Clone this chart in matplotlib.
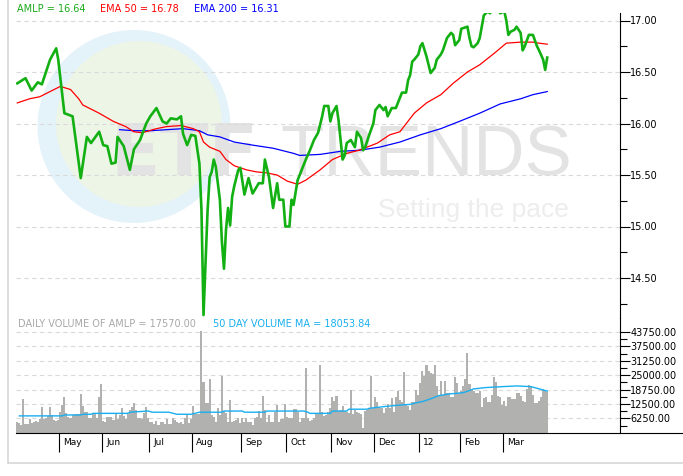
import numpy as np
import matplotlib.pyplot as plt
from matplotlib.patches import Ellipse
from matplotlib.lines import Line2D
from matplotlib.ticker import FixedLocator, FormatStrFormatter

# AMLP daily close (trading day index, price)
amlp_day = [0, 4, 7, 10, 12, 16, 19, 20, 23, 27, 31, 34, 36, 40, 42, 44, 46, 48, 49, 52,
            55, 57, 60, 63, 65, 68, 71, 73, 75, 78, 80, 81, 83, 85, 87, 89, 90, 91, 92, 93,
            94, 95, 96, 97, 99, 100, 101, 102, 103, 104, 105, 106, 108, 109, 111, 113, 115, 118, 120, 121,
            123, 125, 127, 128, 130, 131, 133, 134, 135, 137, 139, 141, 143, 145, 147, 149, 150, 152, 153, 154,
            156, 157, 158, 159, 160, 161, 163, 165, 166, 168, 169, 170, 172, 174, 175, 177, 179, 180, 181, 183,
            185, 186, 188, 190, 191, 192, 193, 194, 196, 197, 198, 200, 201, 202, 204, 205, 207, 208, 210, 212,
            213, 214, 216, 217, 220, 221, 222, 223, 225, 226, 227, 228, 230, 231, 232, 233, 235, 236, 238, 239,
            240, 241, 243, 244, 246, 247, 248, 250, 252, 254, 255, 257, 258, 259]
amlp = [16.39, 16.44, 16.32, 16.40, 16.38, 16.62, 16.73, 16.62, 16.10, 16.07, 15.47, 15.87, 15.81, 15.92, 15.79, 15.78, 15.61, 15.62, 15.87, 15.78,
        15.55, 15.75, 15.84, 16.00, 16.07, 16.15, 16.02, 16.00, 16.05, 16.04, 16.07, 15.90, 15.79, 15.89, 15.88, 15.61, 15.16, 14.14, 14.66, 15.16,
        15.48, 15.53, 15.65, 15.58, 15.26, 14.85, 14.59, 14.97, 15.18, 15.01, 15.29, 15.39, 15.55, 15.57, 15.31, 15.47, 15.32, 15.42, 15.42, 15.65,
        15.48, 15.18, 15.42, 15.26, 15.26, 15.00, 15.00, 15.26, 15.21, 15.45, 15.55, 15.65, 15.74, 15.84, 15.91, 16.07, 16.17, 16.17, 16.02, 16.10,
        16.17, 16.03, 15.84, 15.65, 15.69, 15.81, 15.84, 15.77, 15.92, 15.86, 15.74, 15.77, 15.89, 16.00, 16.13, 16.18, 16.13, 16.16, 16.07, 16.15,
        16.15, 16.20, 16.30, 16.30, 16.42, 16.47, 16.60, 16.62, 16.67, 16.75, 16.78, 16.65, 16.57, 16.49, 16.54, 16.62, 16.67, 16.71, 16.83, 16.88,
        16.86, 16.76, 16.81, 16.92, 16.94, 16.83, 16.75, 16.74, 16.78, 16.83, 16.94, 17.05, 17.09, 17.07, 17.10, 17.14, 17.12, 17.07, 17.09, 17.00,
        16.86, 16.89, 16.91, 16.94, 16.88, 16.71, 16.75, 16.86, 16.86, 16.75, 16.71, 16.62, 16.52, 16.64]

ema50_day = [0, 6, 11, 16, 21, 26, 30, 32, 40, 47, 53, 57, 61, 68, 73, 80, 86, 89, 91, 94,
             99, 102, 106, 112, 117, 122, 127, 132, 137, 141, 148, 154, 161, 167, 176, 182, 187, 194, 200, 207,
             213, 220, 226, 233, 239, 246, 252, 255, 259]
ema50 = [16.20, 16.24, 16.26, 16.31, 16.36, 16.33, 16.24, 16.18, 16.10, 16.02, 15.97, 15.92, 15.91, 15.95, 15.97, 15.98, 15.95, 15.92, 15.82, 15.77,
         15.73, 15.65, 15.59, 15.55, 15.53, 15.52, 15.50, 15.44, 15.41, 15.45, 15.55, 15.65, 15.71, 15.74, 15.81, 15.89, 15.92, 16.10, 16.20, 16.28,
         16.39, 16.50, 16.57, 16.68, 16.78, 16.79, 16.79, 16.78, 16.77]

ema200_day = [50, 57, 65, 73, 81, 89, 93, 99, 106, 115, 125, 135, 138, 148, 158, 167, 177, 187, 197, 207,
              216, 226, 236, 246, 252, 259]
ema200 = [15.94, 15.93, 15.93, 15.94, 15.95, 15.93, 15.89, 15.87, 15.82, 15.79, 15.76, 15.71, 15.69, 15.70, 15.73, 15.74, 15.77, 15.82, 15.89, 15.95,
          16.02, 16.10, 16.19, 16.24, 16.28, 16.31]

# daily volume, thousands of shares
volume_k = [4.8, 4.0, 3.3, 14.7, 3.8, 3.8, 6.0, 4.0, 4.5, 5.2,
            4.8, 5.8, 11.2, 6.0, 6.2, 7.4, 11.2, 7.7, 5.5, 5.2,
            5.5, 8.9, 12.0, 15.7, 8.4, 7.0, 6.5, 7.7, 8.0, 8.0,
            8.0, 16.9, 11.6, 8.9, 8.9, 6.2, 6.5, 8.4, 8.4, 6.2,
            15.3, 21.2, 5.1, 4.8, 7.0, 7.0, 7.0, 5.5, 8.0, 5.8,
            7.7, 10.6, 7.4, 6.0, 8.0, 9.9, 11.3, 13.1, 9.9, 6.2,
            6.2, 6.0, 8.4, 11.3, 6.5, 4.8, 4.8, 3.9, 5.2, 3.3,
            4.8, 4.8, 3.8, 6.0, 3.6, 3.8, 6.2, 5.5, 4.5, 4.0,
            4.8, 3.6, 6.2, 7.7, 4.0, 6.0, 11.6, 8.0, 8.0, 8.0,
            44.3, 22.2, 13.1, 13.1, 23.4, 7.7, 7.0, 4.8, 10.9, 7.7,
            24.8, 9.4, 8.4, 4.5, 14.2, 4.8, 5.1, 5.5, 6.2, 4.4,
            6.2, 4.8, 6.5, 4.5, 4.5, 3.3, 6.2, 7.0, 9.4, 6.5,
            16.0, 9.9, 4.8, 7.7, 4.8, 4.5, 8.9, 12.0, 4.5, 6.0,
            5.8, 12.5, 7.0, 6.5, 6.5, 10.2, 10.2, 8.9, 4.8, 6.5,
            6.5, 28.3, 6.2, 5.1, 5.5, 6.2, 8.0, 8.4, 29.5, 8.9,
            7.4, 7.9, 8.9, 10.9, 15.3, 13.8, 16.0, 9.4, 9.9, 11.6,
            9.4, 9.2, 8.4, 18.6, 8.0, 9.9, 8.9, 8.4, 8.0, 1.9,
            9.4, 9.9, 10.6, 24.7, 10.6, 15.4, 13.5, 11.3, 10.6, 8.4,
            10.9, 12.5, 10.6, 15.0, 9.2, 15.7, 18.2, 14.2, 13.5, 26.3,
            12.1, 11.6, 9.9, 13.2, 13.2, 18.6, 16.4, 21.5, 27.0, 24.8,
            29.2, 26.9, 25.9, 25.4, 29.5, 20.3, 16.4, 22.5, 16.4, 22.5,
            17.1, 17.1, 15.3, 15.3, 24.0, 21.5, 17.4, 17.9, 20.3, 23.2,
            34.6, 21.1, 18.6, 17.9, 17.4, 17.1, 18.2, 11.3, 15.0, 15.7,
            13.2, 13.4, 16.4, 24.1, 22.2, 16.1, 15.7, 12.1, 13.8, 11.8,
            15.3, 15.7, 14.7, 14.7, 17.1, 17.1, 16.1, 13.8, 13.5, 19.0,
            20.5, 20.1, 16.4, 12.8, 13.1, 13.8, 15.7, 19.0, 18.6, 17.57]

# 50 day volume moving average
vma_day = [1, 22, 23, 31, 32, 36, 37, 54, 55, 64, 66, 74, 78, 85, 89, 100, 101, 110, 111, 121,
           122, 131, 140, 142, 143, 153, 154, 161, 162, 171, 172, 179, 187, 192, 195, 198, 202, 206, 211, 218,
           221, 223, 229, 237, 244, 251, 254, 259]
vma_k = [7.3, 7.3, 7.7, 7.7, 8.0, 8.0, 8.4, 8.4, 8.9, 9.4, 8.9, 8.9, 8.0, 8.0, 8.9, 8.9, 9.4, 9.4, 8.9, 8.9,
         9.4, 9.4, 9.4, 8.9, 8.4, 8.4, 9.4, 9.4, 10.2, 10.2, 10.6, 11.3, 12.0, 12.3, 13.0, 13.5, 14.7, 16.1, 16.8, 17.4,
         18.3, 19.0, 19.6, 20.0, 20.3, 20.0, 19.3, 18.05]

month_first = [21, 42, 65, 86, 110, 132, 154, 175, 197, 217, 238]
month_labels = ['May', 'Jun', 'Jul', 'Aug', 'Sep', 'Oct', 'Nov', 'Dec', '12', 'Feb', 'Mar']

W, H = 683, 476
fig = plt.figure(figsize=(W / 100, H / 100), dpi=100)
fig.patch.set_facecolor('white')


def fx(px):
    return px / W


def fy(py):
    return 1 - py / H


# watermark
fig.add_artist(Ellipse((fx(134), fy(126.5)), 193 / W, 193 / H, transform=fig.transFigure,
                       facecolor='#e4f2fa', edgecolor='none', zorder=-5))
fig.add_artist(Ellipse((fx(139), fy(124)), 166 / W, 166 / H, transform=fig.transFigure,
                       facecolor='#edf5e7', edgecolor='none', zorder=-4))
fig.text(fx(110), fy(175), 'ETF', fontsize=52, fontweight='bold', color='#e3e3e3',
         family='DejaVu Sans', va='baseline', ha='left', zorder=-3)
fig.text(fx(280), fy(175), 'TRENDS', fontsize=51, color='#e3e3e3',
         family='Liberation Sans', va='baseline', ha='left', zorder=-3)
fig.text(fx(378), fy(217), 'Setting the pace', fontsize=19, color='#ededed',
         family='Liberation Sans', va='baseline', ha='left', zorder=-3)

left = 16.3
right = 620
xmax = -0.5 + (right - left) / 2.046
ax = fig.add_axes([fx(left), fy(318), (right - left) / W, (318 - 12.7) / H])
axv = fig.add_axes([fx(left), fy(432.7), (right - left) / W, (432.7 - 318) / H])

for a in (ax, axv):
    a.set_facecolor('none')
    a.set_xlim(-0.5, xmax)
    for s in ('top', 'left', 'bottom'):
        a.spines[s].set_visible(False)
    a.spines['right'].set_linewidth(0.8)
    a.yaxis.tick_right()
    a.tick_params(axis='y', which='major', length=7, width=0.8, pad=0.5, labelsize=7)
    a.tick_params(axis='y', which='minor', length=5, width=0.8)
    a.yaxis.grid(True, which='major', color='#dadada', linestyle=(0, (4, 3)), linewidth=0.8)
    a.set_axisbelow(True)

# price panel
ax.plot(ema200_day, ema200, color='#0000ff', lw=0.9)
ax.plot(ema50_day, ema50, color='#ff0000', lw=0.9)
ax.plot(amlp_day, amlp, color='#12b012', lw=1.9)
ax.set_ylim(17 - (318 - 20.5) / 103, 17 - (12.7 - 20.5) / 103)
ax.yaxis.set_major_locator(FixedLocator(np.arange(14.5, 17.01, 0.5)))
ax.yaxis.set_minor_locator(FixedLocator(np.arange(14.25, 17.0, 0.5)))
ax.yaxis.set_major_formatter(FormatStrFormatter('%.2f'))
ax.set_xticks([])

# volume panel
days = np.arange(len(volume_k))
axv.bar(days, np.array(volume_k) * 1000, width=1.0, color='#b1b1af', linewidth=0)
axv.plot(vma_day, np.array(vma_k) * 1000, color='#19aef0', lw=1.0)
axv.set_ylim(0, 49800)
axv.yaxis.set_major_locator(FixedLocator(np.arange(6250, 43751, 6250)))
axv.yaxis.set_minor_locator(FixedLocator(np.arange(3125, 40626, 6250)))
axv.yaxis.set_major_formatter(FormatStrFormatter('%.2f'))

axv.set_xticks([m - 0.5 for m in month_first])
axv.set_xticklabels([])
axv.tick_params(axis='x', direction='out', length=13.7, width=0.8, color='black')
for m, lbl in zip(month_first, month_labels):
    axv.annotate(lbl, xy=(m - 0.5, 0), xycoords=('data', 'axes fraction'),
                 xytext=(2.8, -7.4), textcoords='offset points',
                 ha='left', va='center', fontsize=6.5)

# legends
fig.text(fx(17.3), fy(9.5), 'AMLP = 16.64', color='#1aaa1a', fontsize=7, va='center')
fig.text(fx(100), fy(9.5), 'EMA 50 = 16.78', color='#ff0000', fontsize=7, va='center')
fig.text(fx(194.3), fy(9.5), 'EMA 200 = 16.31', color='#0000ff', fontsize=7, va='center')
fig.text(fx(18.3), fy(324), 'DAILY VOLUME OF AMLP = 17570.00', color='#a8a8a8', fontsize=7, va='center')
fig.text(fx(213.3), fy(324), '50 DAY VOLUME MA = 18053.84', color='#19aef0', fontsize=7, va='center')

# axis baseline across the full width, and outer frame
fig.add_artist(Line2D([fx(left), 1.0], [fy(432.7), fy(432.7)], color='black', lw=0.8))
fig.add_artist(Line2D([fx(8), fx(8)], [1.0, fy(463.3)], color='#d3d3d3', lw=1.1))
fig.add_artist(Line2D([fx(8), 1.0], [fy(463.3), fy(463.3)], color='#d3d3d3', lw=1.1))

fig.savefig('out.png', dpi=100)
